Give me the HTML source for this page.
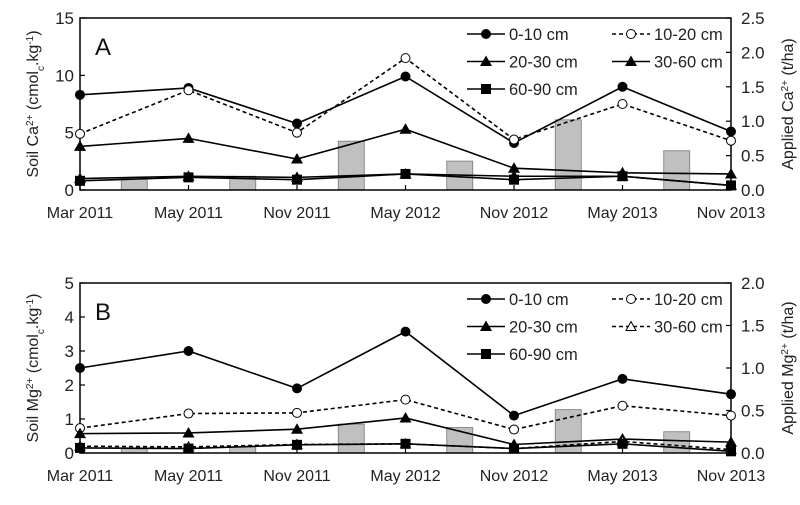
<!DOCTYPE html>
<html><head><meta charset="utf-8"><style>
body{margin:0;background:#fff;}
svg{display:block;font-family:"Liberation Sans",Arial,sans-serif;}
</style></head><body>
<svg id="svg" width="800" height="505" viewBox="0 0 800 505"></svg>
<script>
const dates=["Mar 2011","May 2011","Nov 2011","May 2012","Nov 2012","May 2013","Nov 2013"];
const caD1=[8.3,8.9,5.8,9.9,4.1,9.0,5.1];
const caD2=[4.9,8.7,5.0,11.5,4.4,7.5,4.3];
const caD3=[3.8,4.5,2.7,5.3,1.9,1.5,1.4];
const caD4=[1.0,1.2,1.1,1.4,1.2,1.2,0.4];
const caD5=[0.8,1.1,0.9,1.4,0.9,1.2,0.4];
const caBars=[0.16,0.2,0.71,0.42,1.02,0.57];
const mgD1=[2.5,3.0,1.9,3.57,1.1,2.18,1.73];
const mgD2=[0.73,1.16,1.18,1.57,0.69,1.39,1.1];
const mgD3=[0.57,0.59,0.7,1.03,0.25,0.41,0.32];
const mgD4=[0.2,0.18,0.25,0.27,0.13,0.34,0.1];
const mgD5=[0.15,0.13,0.24,0.27,0.13,0.27,0.05];
const mgBars=[0.05,0.07,0.34,0.3,0.51,0.25];
const caLeftTicks=[0,5,10,15];
const caRightTicks=["0.0","0.5","1.0","1.5","2.0","2.5"];
const mgLeftTicks=[0,1,2,3,4,5];
const mgRightTicks=["0.0","0.5","1.0","1.5","2.0"];

const NS="http://www.w3.org/2000/svg";
const svg=document.getElementById('svg');
function el(tag,attrs,parent,text){const e=document.createElementNS(NS,tag);for(const k in attrs)e.setAttribute(k,attrs[k]);if(text!==undefined)e.textContent=text;(parent||svg).appendChild(e);return e;}
const X0=80,X1=731;
const xPt=i=>X0+(X1-X0)*i/(dates.length-1);
const xBar=i=>X0+(X1-X0)*(i+0.5)/(dates.length-1);

function marker(g,type,x,y){
  let m;
  if(type==='circle'){m=el('circle',{cx:x,cy:y,r:5,fill:'#000'},g);}
  else if(type==='ocircle'){m=el('circle',{cx:x,cy:y,r:4.5,fill:'#fff',stroke:'#000','stroke-width':1},g);}
  else if(type==='tri'){m=el('polygon',{points:`${x},${y-6} ${x-6},${y+4.5} ${x+6},${y+4.5}`,fill:'#000'},g);}
  else if(type==='otri'){m=el('polygon',{points:`${x},${y-5} ${x-5},${y+4} ${x+5},${y+4}`,fill:'#fff',stroke:'#000','stroke-width':1},g);}
  else {m=el('rect',{x:x-5,y:y-5,width:10,height:10,fill:'#000'},g);}
  
  
}

function panel(cfg){
  const {top,bot,lmax,rmax,lticks,rticks,series,bars,label,ylab,rlab,name}=cfg;
  const g=el('g',{},svg);
  
  
  const yL=v=>bot-(bot-top)*v/lmax;
  const yR=v=>bot-(bot-top)*v/rmax;
  bars.forEach((v,i)=>{
    const b=el('rect',{x:xBar(i)-13,y:yR(v),width:26,height:bot-yR(v),fill:'#c0c0c0',stroke:'#777','stroke-width':0.8},g);
    
    
  });
  const f=el('rect',{x:X0,y:top,width:X1-X0,height:bot-top,fill:'none',stroke:'#000','stroke-width':1.5},g);
  
  
  dates.forEach((d,i)=>{
    el('line',{x1:xPt(i),x2:xPt(i),y1:bot,y2:bot-5,stroke:'#000','stroke-width':1.2},g);
    const t=el('text',{x:xPt(i),y:bot+28,'text-anchor':'middle','font-size':16,fill:'#222'},g,d);
    
    
  });
  lticks.forEach(v=>{
    el('line',{x1:X0,x2:X0+5,y1:yL(v),y2:yL(v),stroke:'#000','stroke-width':1.2},g);
    const t=el('text',{x:X0-6,y:yL(v)+6,'text-anchor':'end','font-size':17,fill:'#222'},g,String(v));
    
    
  });
  rticks.forEach(v=>{
    const y=yR(parseFloat(v));
    el('line',{x1:X1,x2:X1-5,y1:y,y2:y,stroke:'#000','stroke-width':1.2},g);
    const t=el('text',{x:X1+10,y:y+6,'font-size':17,fill:'#222'},g,v);
    
    
  });
  series.forEach(s=>{
    const pts=s.data.map((v,i)=>xPt(i)+','+yL(v)).join(' ');
    const l=el('polyline',{points:pts,fill:'none',stroke:'#000','stroke-width':1.6,'stroke-dasharray':s.dash?'4,3':'none'},g);
    
    
    s.data.forEach((v,i)=>marker(g,s.m,xPt(i),yL(v)));
  });
  const lg=el('g',{},g);
  
  
  series.forEach((s,k)=>{
    const col=k%2, row=Math.floor(k/2);
    const lx=col===0?467:612, ly=top+16+row*27.5;
    const e=el('g',{},lg);
    
    
    el('line',{x1:lx,x2:lx+38,y1:ly,y2:ly,stroke:'#000','stroke-width':1.6,'stroke-dasharray':s.dash?'4,3':'none'},e);
    marker(e,s.m,lx+19,ly);
    el('text',{x:lx+42,y:ly+6,'font-size':16.5,fill:'#222'},e,s.lab);
  });
  const pl=el('text',{x:95,y:top+37,'font-size':24,fill:'#111'},g,label);
  
  
  const cy=(top+bot)/2;
  const yt=el('text',{transform:`translate(38,${cy}) rotate(-90)`,'text-anchor':'middle','font-size':16,fill:'#222'},g);
  
  
  yt.innerHTML=ylab;
  const rt=el('text',{transform:`translate(793,${cy}) rotate(-90)`,'text-anchor':'middle','font-size':16,fill:'#222'},g);
  
  
  rt.innerHTML=rlab;
}
const sub=(t)=>`<tspan baseline-shift="sub" font-size="10">${t}</tspan>`;
const sup=(t)=>`<tspan baseline-shift="super" font-size="10">${t}</tspan>`;
panel({name:'panel-a-calcium',top:18,bot:190,lmax:15,rmax:2.5,lticks:caLeftTicks,rticks:caRightTicks,bars:caBars,label:'A',
  ylab:`Soil Ca${sup('2+')} (cmol${sub('c')}.kg${sup('-1')})`,rlab:`Applied Ca${sup('2+')} (t/ha)`,
  series:[{lab:'0-10 cm',data:caD1,m:'circle'},{lab:'10-20 cm',data:caD2,m:'ocircle',dash:true},{lab:'20-30 cm',data:caD3,m:'tri'},{lab:'30-60 cm',data:caD4,m:'tri'},{lab:'60-90 cm',data:caD5,m:'sq'}]});
panel({name:'panel-b-magnesium',top:283,bot:453,lmax:5,rmax:2,lticks:mgLeftTicks,rticks:mgRightTicks,bars:mgBars,label:'B',
  ylab:`Soil Mg${sup('2+')} (cmol${sub('c')}.kg${sup('-1')})`,rlab:`Applied Mg${sup('2+')} (t/ha)`,
  series:[{lab:'0-10 cm',data:mgD1,m:'circle'},{lab:'10-20 cm',data:mgD2,m:'ocircle',dash:true},{lab:'20-30 cm',data:mgD3,m:'tri'},{lab:'30-60 cm',data:mgD4,m:'otri',dash:true},{lab:'60-90 cm',data:mgD5,m:'sq'}]});
</script>
</body></html>
